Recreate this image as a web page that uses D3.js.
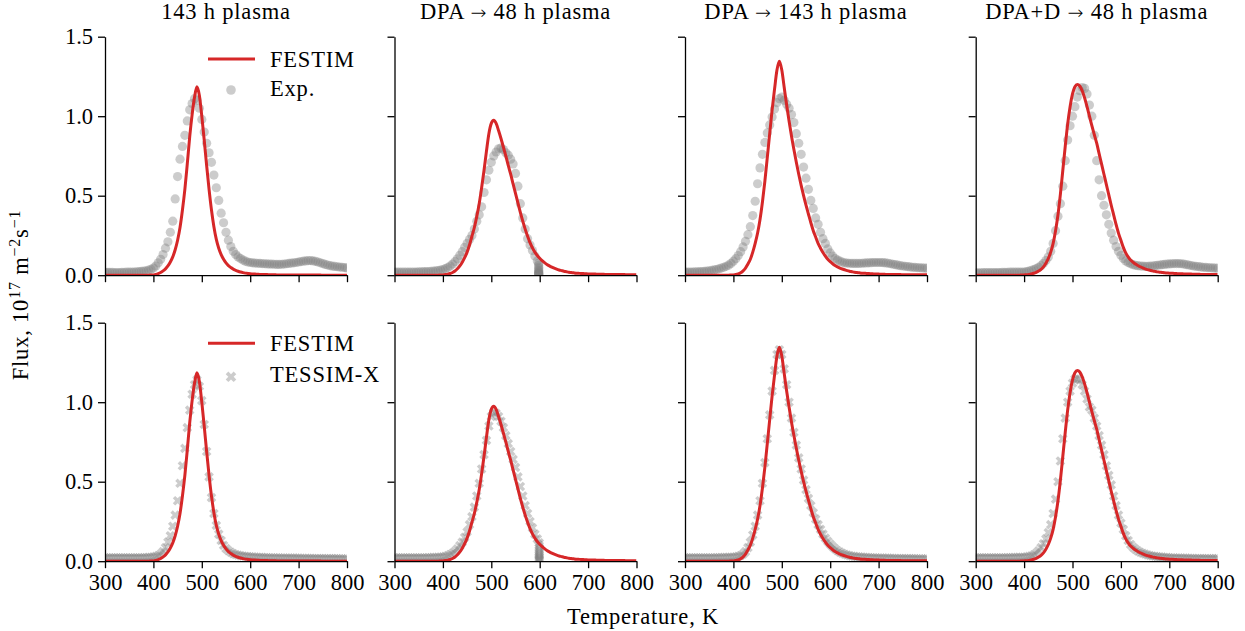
<!DOCTYPE html>
<html>
<head>
<meta charset="utf-8">
<script src="https://cdn.jsdelivr.net/npm/d3@7"></script>
<style>
  body { margin: 0; background: #fff; }
  text { font-family: "Liberation Serif", "DejaVu Serif", serif; fill: #000; }
  .lbl { font-size: 22.5px; letter-spacing: 0.8px; }
</style>
</head>
<body>
<svg id="chart" width="1245" height="631"></svg>
<script>
// temperature grid (K) shared by every series
var tempGrid = [300,305,310,315,320,325,330,335,340,345,
                350,355,360,365,370,375,380,385,390,395,
                400,405,410,415,420,425,430,435,440,445,
                450,455,460,465,470,475,480,485,490,495,
                500,505,510,515,520,525,530,535,540,545,
                550,555,560,565,570,575,580,585,590,595,
                600,605,610,615,620,625,630,635,640,645,
                650,655,660,665,670,675,680,685,690,695,
                700,705,710,715,720,725,730,735,740,745,
                750,755,760,765,770,775,780,785,790,795,
                800];

var titles = ["143 h plasma", "DPA \u2192 48 h plasma", "DPA \u2192 143 h plasma", "DPA+D \u2192 48 h plasma"];
var xTicks = [300, 400, 500, 600, 700, 800];
var yTicks = [0, 0.5, 1.0, 1.5];

// ---- 143 h plasma ----
var festim143 = [0,0,0,0,0,0,0,0,0,0,
                 0,0,0,0,0,0,0,0,0,0.001,
                 0.002,0.005,0.01,0.017,0.027,0.04,0.058,0.083,0.115,0.16,
                 0.22,0.3,0.41,0.54,0.7,0.87,1.01,1.12,1.185,1.13,
                 1.0,0.85,0.69,0.54,0.41,0.305,0.225,0.17,0.13,0.1,
                 0.077,0.06,0.048,0.038,0.031,0.025,0.02,0.016,0.013,0.011,
                 0.009,0.008,0.007,0.006,0.005,0.005,0.004,0.004,0.003,0.003,
                 0.003,0.002,0.002,0.002,0.002,0.002,0.001,0.001,0.001,0.001,
                 0.001,0.001,0.001,0.001,0.001,0.001,0.001,0.001,0.001,0.001,
                 0,0,0,0,0,0,0,0,0,0,
                 0];
var exp143 = [0.018,0.018,0.018,0.018,0.017,0.017,0.017,0.018,0.018,0.019,
              0.019,0.02,0.02,0.021,0.022,0.024,0.026,0.028,0.032,0.037,
              0.045,0.058,0.078,0.1,0.13,0.17,0.21,0.27,0.34,0.48,
              0.62,0.73,0.81,0.88,0.97,1.04,1.08,1.11,1.1,1.05,
              0.98,0.9,0.83,0.77,0.71,0.63,0.55,0.47,0.39,0.33,
              0.27,0.22,0.18,0.15,0.13,0.115,0.105,0.095,0.088,0.083,
              0.08,0.078,0.076,0.075,0.074,0.073,0.072,0.071,0.07,0.07,
              0.069,0.068,0.068,0.069,0.07,0.072,0.074,0.076,0.078,0.08,
              0.083,0.086,0.088,0.09,0.092,0.092,0.09,0.087,0.083,0.078,
              0.073,0.068,0.064,0.06,0.057,0.055,0.053,0.051,0.05,0.048,
              0.046];
var tessim143 = [0.022,0.022,0.022,0.022,0.022,0.022,0.022,0.022,0.022,0.022,
                 0.022,0.022,0.022,0.022,0.022,0.022,0.023,0.023,0.024,0.025,
                 0.027,0.03,0.035,0.045,0.06,0.085,0.12,0.16,0.22,0.29,
                 0.38,0.49,0.6,0.71,0.84,0.95,1.05,1.11,1.14,1.1,
                 1.01,0.86,0.69,0.53,0.4,0.3,0.225,0.17,0.13,0.1,
                 0.08,0.066,0.056,0.048,0.042,0.038,0.035,0.033,0.031,0.029,
                 0.028,0.027,0.026,0.025,0.024,0.024,0.023,0.023,0.022,0.022,
                 0.021,0.021,0.021,0.02,0.02,0.02,0.02,0.019,0.019,0.019,
                 0.019,0.018,0.018,0.018,0.018,0.018,0.017,0.017,0.017,0.017,
                 0.017,0.016,0.016,0.016,0.016,0.016,0.016,0.015,0.015,0.015,
                 0.015];

// ---- DPA -> 48 h plasma ----
var festimDpa48 = [0,0,0,0,0,0,0,0,0,0,
                   0,0,0,0,0,0,0,0,0,0.001,
                   0.002,0.004,0.007,0.011,0.017,0.026,0.04,0.058,0.082,0.11,
                   0.145,0.19,0.245,0.3,0.37,0.45,0.55,0.66,0.78,0.89,
                   0.955,0.975,0.955,0.91,0.86,0.805,0.75,0.69,0.635,0.575,
                   0.515,0.455,0.395,0.34,0.29,0.245,0.205,0.172,0.145,0.124,
                   0.107,0.092,0.079,0.068,0.059,0.051,0.044,0.038,0.033,0.029,
                   0.025,0.022,0.019,0.017,0.015,0.013,0.012,0.011,0.01,0.009,
                   0.008,0.008,0.007,0.007,0.006,0.006,0.006,0.005,0.005,0.005,
                   0.005,0.004,0.004,0.004,0.004,0.004,0.003,0.003,0.003,0.003,
                   0.003];
// measured only up to ~600 K
var expDpa48 = [0.02,0.02,0.019,0.019,0.019,0.019,0.019,0.02,0.02,0.02,
                0.021,0.021,0.022,0.022,0.023,0.024,0.025,0.027,0.029,0.032,
                0.036,0.041,0.048,0.058,0.07,0.085,0.103,0.125,0.148,0.175,
                0.2,0.225,0.25,0.29,0.34,0.38,0.43,0.52,0.6,0.66,
                0.71,0.75,0.775,0.795,0.8,0.79,0.77,0.755,0.73,0.7,
                0.64,0.56,0.45,0.36,0.29,0.23,0.19,0.155,0.12,0.09];
// flux decay while the temperature is held at ~598 K
var expDpa48Hold = [0.075,0.062,0.05,0.04,0.031,0.024,0.018,0.013,0.009,0.006,0.003];
var tessimDpa48 = [0.022,0.022,0.022,0.022,0.022,0.022,0.022,0.022,0.022,0.022,
                   0.022,0.022,0.022,0.022,0.023,0.023,0.024,0.024,0.025,0.026,
                   0.027,0.03,0.035,0.042,0.05,0.062,0.078,0.098,0.12,0.15,
                   0.185,0.23,0.28,0.34,0.41,0.49,0.58,0.67,0.76,0.85,
                   0.91,0.935,0.93,0.91,0.88,0.84,0.79,0.74,0.69,0.64,
                   0.59,0.53,0.47,0.41,0.35,0.3,0.25,0.21,0.17,0.14];
var tessimDpa48Hold = [0.115,0.098,0.083,0.07,0.058,0.047,0.037,0.028,0.02,0.013,0.007,0.003];

// ---- DPA -> 143 h plasma ----
var festimDpa143 = [0,0,0,0,0,0,0,0,0,0,
                    0,0,0,0,0,0,0,0,0,0.001,
                    0.002,0.004,0.008,0.015,0.027,0.045,0.07,0.1,0.145,0.2,
                    0.265,0.35,0.46,0.59,0.74,0.89,1.04,1.17,1.29,1.345,
                    1.29,1.18,1.07,0.97,0.875,0.79,0.71,0.635,0.565,0.5,
                    0.44,0.385,0.33,0.28,0.24,0.2,0.17,0.143,0.12,0.1,
                    0.085,0.072,0.061,0.052,0.045,0.039,0.034,0.029,0.025,0.022,
                    0.019,0.017,0.015,0.013,0.012,0.011,0.01,0.009,0.008,0.007,
                    0.007,0.006,0.006,0.005,0.005,0.005,0.004,0.004,0.004,0.004,
                    0.003,0.003,0.003,0.003,0.003,0.003,0.003,0.003,0.003,0.003,
                    0.003];
var expDpa143 = [0.02,0.02,0.02,0.02,0.021,0.021,0.022,0.023,0.024,0.026,
                 0.028,0.03,0.033,0.036,0.04,0.045,0.05,0.056,0.063,0.074,
                 0.088,0.104,0.124,0.148,0.178,0.213,0.255,0.305,0.375,0.465,
                 0.575,0.675,0.76,0.835,0.895,0.945,0.995,1.045,1.085,1.11,
                 1.12,1.1,1.075,1.05,1.01,0.96,0.89,0.83,0.76,0.68,
                 0.61,0.54,0.47,0.42,0.36,0.32,0.27,0.23,0.2,0.165,
                 0.14,0.12,0.105,0.095,0.088,0.082,0.078,0.076,0.075,0.074,
                 0.074,0.074,0.074,0.075,0.076,0.077,0.078,0.079,0.08,0.08,
                 0.08,0.08,0.079,0.077,0.075,0.072,0.069,0.066,0.063,0.06,
                 0.058,0.056,0.054,0.052,0.05,0.049,0.048,0.047,0.046,0.045,
                 0.044];
var tessimDpa143 = [0.022,0.022,0.022,0.022,0.022,0.022,0.022,0.022,0.022,0.022,
                    0.022,0.022,0.022,0.023,0.023,0.023,0.024,0.024,0.025,0.025,
                    0.026,0.028,0.031,0.036,0.045,0.06,0.085,0.12,0.165,0.22,
                    0.29,0.38,0.49,0.62,0.77,0.92,1.07,1.2,1.3,1.33,
                    1.3,1.21,1.11,1.0,0.9,0.81,0.73,0.65,0.58,0.51,
                    0.45,0.395,0.35,0.305,0.265,0.23,0.2,0.17,0.145,0.125,
                    0.107,0.092,0.078,0.066,0.057,0.05,0.044,0.039,0.035,0.032,
                    0.03,0.028,0.027,0.026,0.025,0.024,0.023,0.022,0.022,0.021,
                    0.02,0.02,0.019,0.019,0.019,0.018,0.018,0.018,0.017,0.017,
                    0.017,0.017,0.016,0.016,0.016,0.016,0.015,0.015,0.015,0.015,
                    0.015];

// ---- DPA+D -> 48 h plasma ----
var festimDpaD = [0,0,0,0,0,0,0,0,0,0,
                  0,0,0,0,0,0,0,0,0,0.001,
                  0.002,0.003,0.005,0.008,0.012,0.018,0.026,0.037,0.052,0.075,
                  0.105,0.145,0.2,0.28,0.38,0.51,0.66,0.81,0.95,1.06,
                  1.14,1.185,1.2,1.19,1.16,1.115,1.06,1.0,0.94,0.885,
                  0.83,0.765,0.7,0.635,0.57,0.505,0.44,0.38,0.32,0.265,
                  0.22,0.175,0.14,0.115,0.095,0.082,0.07,0.061,0.053,0.046,
                  0.04,0.035,0.031,0.027,0.024,0.021,0.019,0.017,0.015,0.014,
                  0.013,0.012,0.011,0.01,0.009,0.009,0.008,0.008,0.007,0.007,
                  0.006,0.006,0.006,0.005,0.005,0.005,0.005,0.004,0.004,0.004,
                  0.004];
var expDpaD = [0.015,0.015,0.015,0.016,0.016,0.016,0.016,0.017,0.017,0.017,
               0.017,0.018,0.018,0.018,0.019,0.019,0.019,0.02,0.02,0.02,
               0.02,0.022,0.026,0.03,0.035,0.042,0.05,0.06,0.075,0.092,
               0.115,0.15,0.2,0.28,0.37,0.45,0.56,0.72,0.85,0.94,
               1.0,1.06,1.12,1.16,1.18,1.175,1.14,1.07,1.0,0.88,
               0.72,0.6,0.5,0.44,0.38,0.32,0.265,0.22,0.18,0.15,
               0.125,0.105,0.09,0.08,0.072,0.066,0.062,0.06,0.058,0.057,
               0.056,0.056,0.057,0.058,0.06,0.062,0.064,0.066,0.068,0.07,
               0.071,0.072,0.073,0.073,0.073,0.072,0.07,0.067,0.064,0.061,
               0.058,0.056,0.054,0.052,0.05,0.049,0.048,0.047,0.046,0.045,
               0.044];
var tessimDpaD = [0.022,0.022,0.022,0.022,0.022,0.022,0.022,0.022,0.022,0.022,
                  0.022,0.022,0.022,0.023,0.023,0.023,0.024,0.024,0.025,0.025,
                  0.025,0.027,0.03,0.034,0.04,0.05,0.065,0.085,0.11,0.14,
                  0.18,0.23,0.3,0.39,0.5,0.63,0.77,0.9,1.0,1.07,
                  1.12,1.145,1.15,1.14,1.11,1.07,1.02,0.97,0.95,0.9,
                  0.85,0.79,0.73,0.67,0.6,0.54,0.48,0.41,0.35,0.29,
                  0.24,0.2,0.16,0.13,0.105,0.088,0.075,0.064,0.056,0.05,
                  0.045,0.04,0.036,0.033,0.031,0.029,0.027,0.026,0.025,0.024,
                  0.022,0.021,0.021,0.02,0.02,0.019,0.019,0.019,0.018,0.018,
                  0.018,0.017,0.017,0.017,0.017,0.016,0.016,0.016,0.016,0.016,
                  0.016];

var festimSeries = [festim143, festimDpa48, festimDpa143, festimDpaD];
var expSeries = [exp143, expDpa48, expDpa143, expDpaD];
var tessimSeries = [tessim143, tessimDpa48, tessimDpa143, tessimDpaD];
var expHold = [[], expDpa48Hold, [], []];
var tessimHold = [[], tessimDpa48Hold, [], []];
var holdTemp = [0, 598, 0, 0];

// ---- layout ----
var colLeft = [105, 394.5, 685, 975.7];
var rowTop = [36.7, 322.7];
var panelW = 242;
var panelH = 238.5;
var red = "#d62728";
var markerFill = "rgba(128,128,128,0.4)";

var svg = d3.select("#chart");
svg.append("rect").attr("width", 1245).attr("height", 631).attr("fill", "#fff");

var x = d3.scaleLinear().domain([300, 800]).range([0, panelW]);
var y = d3.scaleLinear().domain([0, 1.5]).range([panelH, 0]);

var crossPath = d3.symbol().type(d3.symbolCross).size(58)();

function pairs(vals) {
    return vals.map(function(v, i) { return [tempGrid[i], v]; });
}

var line = d3.line()
    .x(function(d) { return x(d[0]); })
    .y(function(d) { return y(d[1]); })
    .curve(d3.curveMonotoneX);

for (var r = 0; r < 2; r++) {
    for (var c = 0; c < 4; c++) {
        var g = svg.append("g")
            .attr("transform", "translate(" + colLeft[c] + "," + rowTop[r] + ")");

        var clipId = "clip-" + r + "-" + c;
        g.append("clipPath").attr("id", clipId)
            .append("rect").attr("width", panelW).attr("height", panelH);

        var plot = g.append("g").attr("clip-path", "url(#" + clipId + ")");

        var pts = pairs(r == 0 ? expSeries[c] : tessimSeries[c]);
        var hold = r == 0 ? expHold[c] : tessimHold[c];
        hold.forEach(function(v) { pts.push([holdTemp[c] + (r == 1 ? 1 : 0), v]); });

        if (r == 0) {
            plot.selectAll("circle.pt")
                .data(pts)
                .enter()
                .append("circle")
                .attr("class", "pt")
                .attr("cx", function(d) { return x(d[0]); })
                .attr("cy", function(d) { return y(d[1]); })
                .attr("r", 4.6)
                .style("fill", markerFill);
        } else {
            plot.selectAll("path.pt")
                .data(pts)
                .enter()
                .append("path")
                .attr("class", "pt")
                .attr("d", crossPath)
                .attr("transform", function(d) {
                    return "translate(" + x(d[0]) + "," + y(d[1]) + ") rotate(45)";
                })
                .style("fill", markerFill);
        }

        plot.append("path")
            .datum(pairs(festimSeries[c]))
            .attr("d", line)
            .attr("fill", "none")
            .attr("stroke", red)
            .attr("stroke-width", 3);

        // axes (left + bottom spines only)
        var yAxis = d3.axisLeft(y).tickValues(yTicks).tickSize(7).tickSizeOuter(0).tickPadding(5)
            .tickFormat(c == 0 ? d3.format(".1f") : "");
        var xAxis = d3.axisBottom(x).tickValues(xTicks).tickSize(7).tickSizeOuter(0).tickPadding(6)
            .tickFormat(r == 1 ? d3.format("d") : "");

        var ya = g.append("g").call(yAxis);
        var xa = g.append("g").attr("transform", "translate(0," + panelH + ")").call(xAxis);
        [ya, xa].forEach(function(a) {
            a.selectAll("path, line").attr("stroke", "#000").attr("stroke-width", 1.3);
            a.selectAll("text").style("font-size", "22.5px").style("font-family", '"Liberation Serif", serif').attr("fill", "#000");
        });

        if (r == 0) {
            // the arrow comes from a font with a wider glyph
            var parts = titles[c].split("\u2192");
            var tt = svg.append("text")
                .attr("class", "lbl")
                .attr("x", colLeft[c] + panelW / 2)
                .attr("y", 19)
                .attr("text-anchor", "middle");
            tt.append("tspan").text(parts[0]);
            if (parts.length > 1) {
                tt.append("tspan").style("font-family", '"DejaVu Sans", sans-serif')
                    .style("font-size", "19px").style("font-weight", "200").text("\u2192");
                tt.append("tspan").text(parts[1]);
            }
        }
    }
}

// legends
function legend(top, label2, isCross) {
    var lg = svg.append("g").attr("transform", "translate(208," + top + ")");
    lg.append("line").attr("x1", 0).attr("x2", 47).attr("y1", 0).attr("y2", 0)
        .attr("stroke", red).attr("stroke-width", 3);
    lg.append("text").attr("class", "lbl").attr("x", 62).attr("y", 7.5).text("FESTIM");
    if (isCross) {
        lg.append("path").attr("d", d3.symbol().type(d3.symbolCross).size(70)())
            .attr("transform", "translate(23,33.5) rotate(45)").style("fill", markerFill);
    } else {
        lg.append("circle").attr("cx", 23).attr("cy", 31).attr("r", 4.8).style("fill", markerFill);
    }
    lg.append("text").attr("class", "lbl").attr("x", 62).attr("y", isCross ? 38.5 : 37).text(label2);
}
legend(59, "Exp.", false);
legend(343.3, "TESSIM-X", true);

// axis titles
svg.append("text")
    .attr("class", "lbl")
    .attr("x", 643).attr("y", 624)
    .attr("text-anchor", "middle")
    .text("Temperature, K");

var yl = svg.append("text")
    .attr("class", "lbl")
    .attr("transform", "translate(28,295) rotate(-90)")
    .attr("text-anchor", "middle");
yl.append("tspan").text("Flux, 10");
yl.append("tspan").attr("dy", -8).style("font-size", "16px").text("17");
yl.append("tspan").attr("dy", 8).text(" m");
yl.append("tspan").attr("dy", -8).style("font-size", "16px").text("\u22122");
yl.append("tspan").attr("dy", 8).text("s");
yl.append("tspan").attr("dy", -8).style("font-size", "16px").text("\u22121");
</script>
</body>
</html>
